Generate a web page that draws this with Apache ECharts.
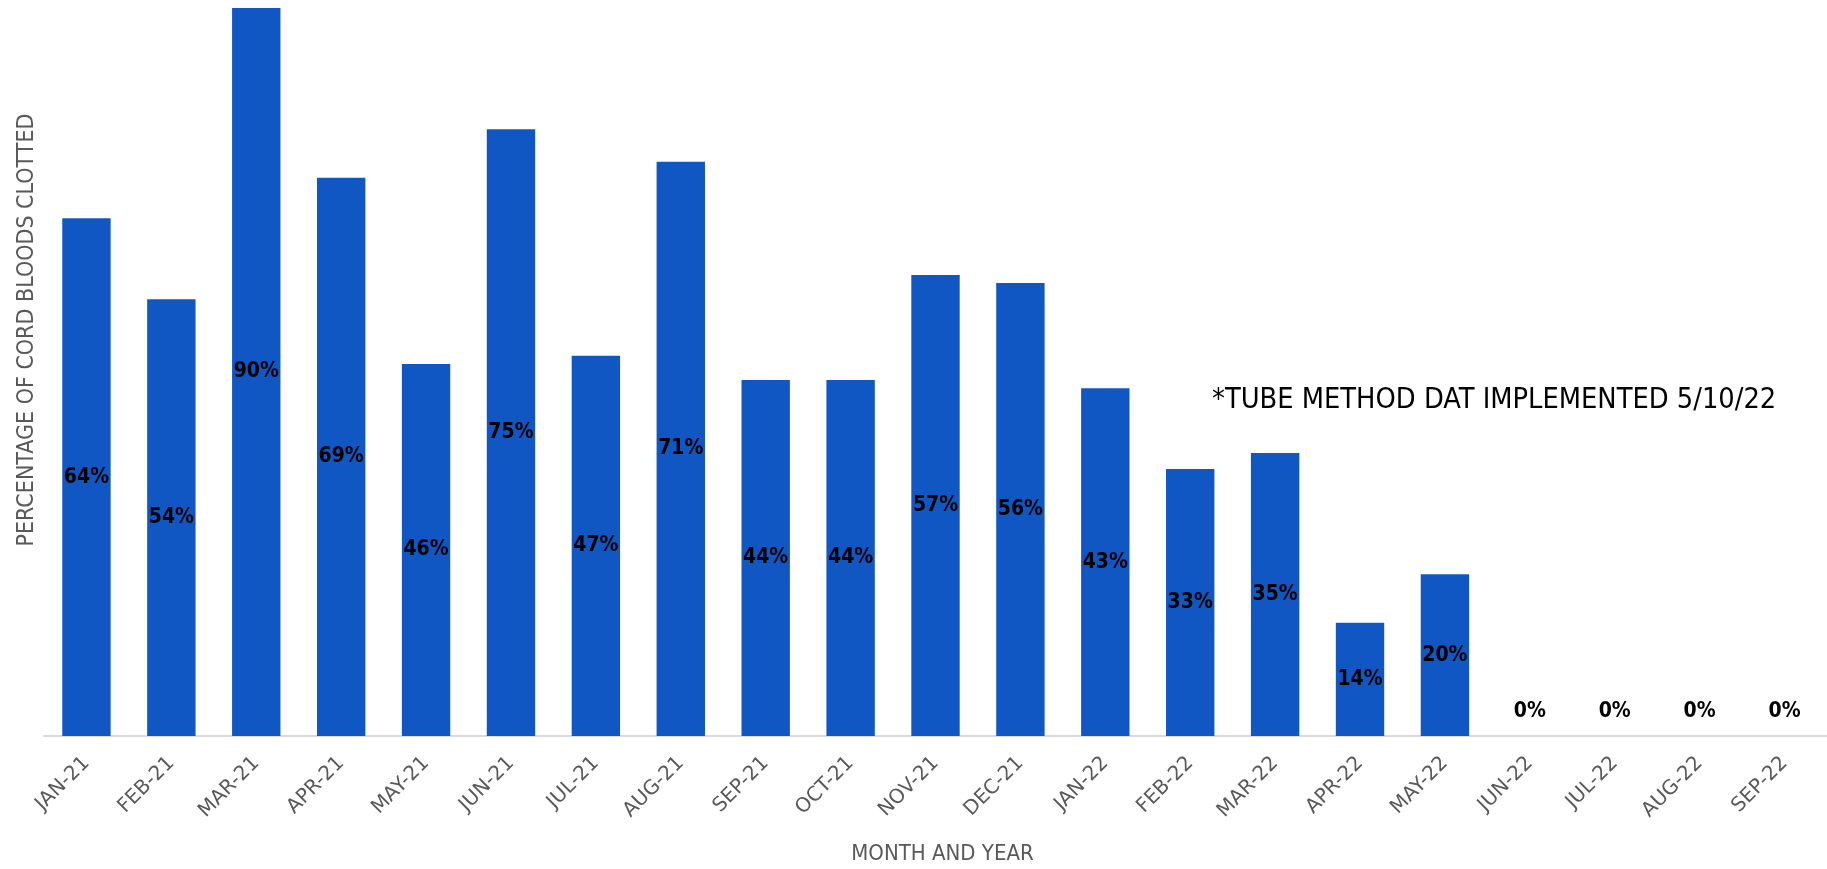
<!DOCTYPE html>
<html>
<head>
<meta charset="utf-8">
<script src="https://cdn.jsdelivr.net/npm/echarts@6/dist/echarts.min.js"></script>
<style>
html,body{margin:0;padding:0;background:#fff;}
#chart{width:1827px;height:869px;}
</style>
</head>
<body>
<div id="chart"></div>
<script>
const categories = ['JAN-21','FEB-21','MAR-21','APR-21','MAY-21','JUN-21','JUL-21','AUG-21','SEP-21','OCT-21','NOV-21','DEC-21','JAN-22','FEB-22','MAR-22','APR-22','MAY-22','JUN-22','JUL-22','AUG-22','SEP-22'];
const clottedPct = [64,54,90,69,46,75,47,71,44,44,57,56,43,33,35,14,20,0,0,0,0];
const xAxisTitle = 'MONTH AND YEAR';
const yAxisTitle = 'PERCENTAGE OF CORD BLOODS CLOTTED';
const noteText = '*TUBE METHOD DAT IMPLEMENTED 5/10/22';

const FONT = '"DejaVu Sans Condensed", "DejaVu Sans", sans-serif';
const FONT_WIDE = '"DejaVu Sans", sans-serif';
const chart = echarts.init(document.getElementById('chart'));

const seriesData = clottedPct.map(v => v === 0
  ? { value: v, label: { position: 'top', distance: 14 } }
  : { value: v });

chart.setOption({
  animation: false,
  backgroundColor: '#ffffff',
  grid: { left: 44, right: 0, top: 8, bottom: 133, containLabel: false, outerBoundsMode: 'none' },
  xAxis: {
    type: 'category',
    data: categories,
    axisLine: { lineStyle: { color: '#D9D9D9', width: 2 } },
    axisTick: { length: 7, lineStyle: { color: '#D9D9D9', width: 2 } },
    axisLabel: { rotate: 45, margin: 24, color: '#595959', fontSize: 20, fontFamily: FONT_WIDE },
    name: xAxisTitle,
    nameLocation: 'middle',
    nameGap: 107,
    nameTextStyle: { color: '#595959', fontSize: 22, fontFamily: FONT, padding: [0, 0, 0, 14] }
  },
  yAxis: {
    type: 'value',
    min: 0,
    max: 90,
    show: false
  },
  graphic: [
    {
      type: 'text',
      x: 27, y: 330,
      rotation: Math.PI / 2,
      style: { text: yAxisTitle, fill: '#595959', font: '23px ' + FONT, textAlign: 'center', textVerticalAlign: 'middle' }
    },
    {
      type: 'text',
      x: 1212, y: 401,
      style: { text: noteText, fill: '#000000', font: '28.7px ' + FONT, textAlign: 'left', textVerticalAlign: 'middle' }
    }
  ],
  series: [{
    type: 'bar',
    data: seriesData,
    barCategoryGap: '43%',
    itemStyle: { color: '#1157C4' },
    label: {
      show: true,
      position: 'inside',
      formatter: p => p.value + '%',
      color: '#000000',
      fontWeight: 'bold',
      fontSize: 21,
      fontFamily: FONT
    }
  }]
});
</script>
</body>
</html>
